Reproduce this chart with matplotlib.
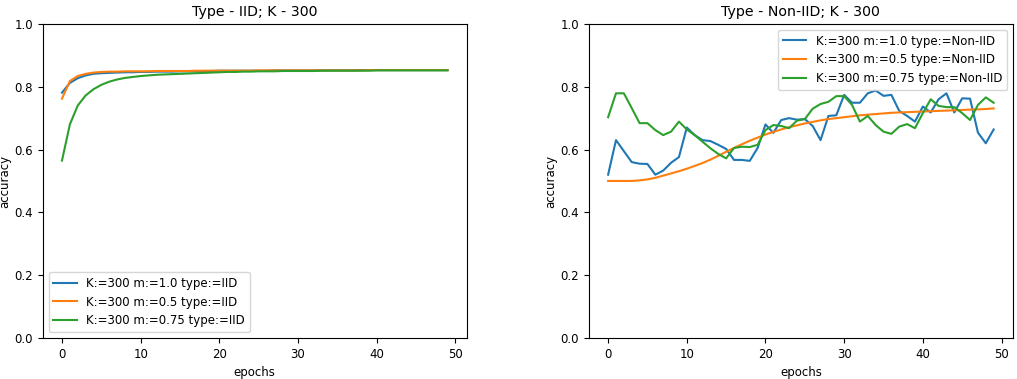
import numpy as np
import matplotlib.pyplot as plt

plt.rcParams['font.size'] = 8.5

epochs = np.arange(50)

# IID, K=300
iid_m10 = [0.781, 0.812, 0.827, 0.836, 0.841, 0.843, 0.844, 0.845, 0.846, 0.846,
           0.847, 0.847, 0.848, 0.848, 0.848, 0.849, 0.849, 0.849, 0.850, 0.850,
           0.851, 0.851, 0.851, 0.851, 0.851, 0.851, 0.851, 0.852, 0.852, 0.852,
           0.852, 0.852, 0.852, 0.852, 0.852, 0.852, 0.852, 0.852, 0.853, 0.853,
           0.853, 0.853, 0.853, 0.853, 0.853, 0.853, 0.853, 0.853, 0.853, 0.853]
iid_m05 = [0.762, 0.818, 0.834, 0.841, 0.845, 0.847, 0.848, 0.848, 0.849, 0.849,
           0.849, 0.849, 0.850, 0.850, 0.850, 0.850, 0.850, 0.851, 0.851, 0.851,
           0.851, 0.851, 0.851, 0.851, 0.851, 0.852, 0.852, 0.852, 0.852, 0.852,
           0.852, 0.852, 0.852, 0.852, 0.852, 0.852, 0.852, 0.852, 0.852, 0.853,
           0.853, 0.853, 0.853, 0.853, 0.853, 0.853, 0.853, 0.853, 0.853, 0.853]
iid_m075 = [0.565, 0.680, 0.740, 0.772, 0.792, 0.806, 0.816, 0.823, 0.828, 0.831,
            0.834, 0.836, 0.838, 0.839, 0.840, 0.841, 0.842, 0.843, 0.844, 0.845,
            0.846, 0.847, 0.847, 0.848, 0.848, 0.849, 0.849, 0.849, 0.850, 0.850,
            0.850, 0.850, 0.850, 0.851, 0.851, 0.851, 0.851, 0.851, 0.851, 0.851,
            0.852, 0.852, 0.852, 0.852, 0.852, 0.852, 0.852, 0.852, 0.852, 0.852]

# Non-IID, K=300
non_m10 = [0.520, 0.630, 0.595, 0.560, 0.555, 0.554, 0.520, 0.533, 0.558, 0.576,
           0.670, 0.646, 0.630, 0.627, 0.615, 0.602, 0.567, 0.567, 0.564, 0.605,
           0.680, 0.653, 0.694, 0.700, 0.695, 0.697, 0.675, 0.630, 0.707, 0.709,
           0.774, 0.749, 0.749, 0.779, 0.788, 0.771, 0.774, 0.723, 0.707, 0.689,
           0.737, 0.718, 0.760, 0.779, 0.718, 0.763, 0.762, 0.654, 0.620, 0.664]
non_m05 = [0.500, 0.500, 0.500, 0.500, 0.502, 0.505, 0.510, 0.517, 0.524, 0.531,
           0.539, 0.548, 0.557, 0.568, 0.580, 0.593, 0.605, 0.617, 0.628, 0.638,
           0.648, 0.656, 0.664, 0.671, 0.677, 0.683, 0.688, 0.693, 0.697, 0.700,
           0.703, 0.706, 0.709, 0.711, 0.713, 0.715, 0.717, 0.718, 0.719, 0.720,
           0.721, 0.722, 0.723, 0.724, 0.725, 0.726, 0.727, 0.728, 0.729, 0.731]
non_m075 = [0.703, 0.779, 0.779, 0.732, 0.684, 0.684, 0.662, 0.646, 0.657, 0.689,
            0.664, 0.646, 0.625, 0.604, 0.586, 0.572, 0.605, 0.609, 0.608, 0.615,
            0.662, 0.678, 0.675, 0.668, 0.692, 0.697, 0.730, 0.745, 0.752, 0.770,
            0.770, 0.742, 0.689, 0.707, 0.678, 0.657, 0.650, 0.673, 0.681, 0.668,
            0.716, 0.760, 0.739, 0.735, 0.735, 0.716, 0.694, 0.742, 0.766, 0.749]

fig = plt.figure(figsize=(10.17, 3.79), dpi=100)
ax1 = fig.add_axes([0.042, 0.108, 0.417, 0.829])
ax2 = fig.add_axes([0.579, 0.108, 0.417, 0.829])

# Gráfico IID
ax1.plot(epochs, iid_m10, label="K:=300 m:=1.0 type:=IID")
ax1.plot(epochs, iid_m05, label="K:=300 m:=0.5 type:=IID")
ax1.plot(epochs, iid_m075, label="K:=300 m:=0.75 type:=IID")
ax1.set_title("Type - IID; K - 300")
ax1.legend(loc="lower left")

# Gráfico Non-IID
ax2.plot(epochs, non_m10, label="K:=300 m:=1.0 type:=Non-IID")
ax2.plot(epochs, non_m05, label="K:=300 m:=0.5 type:=Non-IID")
ax2.plot(epochs, non_m075, label="K:=300 m:=0.75 type:=Non-IID")
ax2.set_title("Type - Non-IID; K - 300")
ax2.legend(loc="upper right")

for ax in (ax1, ax2):
    ax.set_ylim(0, 1.0)
    ax.set_xlabel("epochs")
    ax.set_ylabel("accuracy", labelpad=2)

plt.savefig("out.png")
